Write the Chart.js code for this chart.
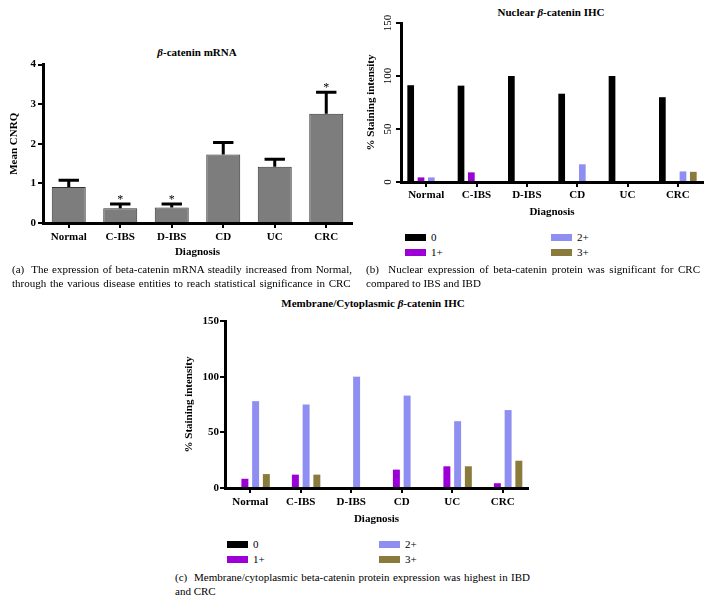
<!DOCTYPE html>
<html>
<head>
<meta charset="utf-8">
<script src="https://cdn.jsdelivr.net/npm/chart.js@4.4.1/dist/chart.umd.min.js"></script>
<style>
  body { margin: 0; width: 708px; height: 612px; background: #fff; position: relative; overflow: hidden;
         font-family: "Liberation Serif", "DejaVu Serif", serif; color: #000; }
  canvas { position: absolute; }
  .title { position: absolute; font-weight: bold; font-size: 11px; white-space: nowrap; transform: translate(-50%, -50%); }
  .cap { position: absolute; font-size: 11px; line-height: 14px; white-space: nowrap; }
  .cap .j { text-align: justify; text-align-last: justify; }
  .leg { position: absolute; font-size: 11px; display: flex; align-items: center; height: 12px; transform: translateY(-50%); }
  .leg .sw { display: inline-block; width: 21px; height: 7px; margin-right: 5px; }
</style>
</head>
<body>

<div class="title" style="left:197px; top:52px;"><i>β</i>-catenin mRNA</div>
<div class="title" style="left:551px; top:12px;">Nuclear <i>β</i>-catenin IHC</div>
<div class="title" style="left:373px; top:303px;">Membrane/Cytoplasmic <i>β</i>-catenin IHC</div>

<canvas id="cA" width="360" height="214" style="left:0px; top:56px;"></canvas>
<canvas id="cB" width="348" height="215" style="left:360px; top:14px;"></canvas>
<canvas id="cC" width="370" height="220" style="left:170px; top:312px;"></canvas>

<div id="legB"></div>
<div id="legC"></div>

<div class="cap" style="left:12px; top:262px; width:340px;">
  <div class="j">(a)&nbsp; The expression of beta-catenin mRNA steadily increased from Normal,</div>
  <div style="word-spacing:1px">through the various disease entities to reach statistical significance in CRC</div>
</div>
<div class="cap" style="left:366px; top:262px; width:334px;">
  <div class="j">(b)&nbsp; Nuclear expression of beta-catenin protein was significant for CRC</div>
  <div>compared to IBS and IBD</div>
</div>
<div class="cap" style="left:175px; top:570px; width:355px;">
  <div class="j">(c)&nbsp; Membrane/cytoplasmic beta-catenin protein expression was highest in IBD</div>
  <div>and CRC</div>
</div>

<script>
// ---------- Data ----------
const categories = ["Normal", "C-IBS", "D-IBS", "CD", "UC", "CRC"];

// (a) beta-catenin mRNA, mean CNRQ with upper SEM
const mrnaMean = [0.91, 0.37, 0.39, 1.73, 1.42, 2.76];
const mrnaSem  = [0.17, 0.11, 0.09, 0.30, 0.19, 0.54];
const mrnaSig  = [false, true, true, false, false, true];

// staining grades
const gradeLabels = ["0", "1+", "2+", "3+"];
const gradeColors = ["#000000", "#9d00d6", "#8f8ff2", "#8a7b3c"];

// (b) nuclear IHC, % per grade
const nuclear0 = [91.3, 90.9, 100, 83.3, 100, 80];
const nuclear1 = [4.35, 9.1, 0, 0, 0, 0];
const nuclear2 = [4.35, 0, 0, 16.7, 0, 10];
const nuclear3 = [0, 0, 0, 0, 0, 9.6];

// (c) membrane/cytoplasmic IHC, % per grade
const membrane0 = [0, 0, 0, 0, 0, 0];
const membrane1 = [8.3, 12, 0, 16.5, 19.5, 4.3];
const membrane2 = [78, 75, 100, 83, 60, 70];
const membrane3 = [12.5, 12, 0, 0, 19.5, 24.5];

const yTicksMrna = { min: 0, max: 4, step: 1 };
const yTicksPct  = { min: 0, max: 150, step: 50 };

// ---------- Helpers ----------
const FONT = "Liberation Serif";
const font = (size, bold) => ({ family: FONT, size: size, weight: bold ? "bold" : "normal" });

function axisX(h, labelPad, titlePadBottom) {
  return {
    offset: true,
    grid: { display: true, offset: false, drawOnChartArea: false, tickLength: 5, color: "#000", lineWidth: 2 },
    border: { display: true, color: "#000", width: 3 },
    ticks: { color: "#000", font: font(11, true), padding: labelPad, maxRotation: 0, autoSkip: false },
    title: { display: true, text: "Diagnosis", color: "#000", font: font(11, true), padding: { top: 0, bottom: titlePadBottom } },
    afterFit: s => { s.height = h; }
  };
}

function axisY(w, range, titleText, titlePadTop, tickOpts) {
  return {
    min: range.min, max: range.max,
    grid: { display: true, drawOnChartArea: false, tickLength: 5, color: "#000", lineWidth: 2 },
    border: { display: true, color: "#000", width: 3 },
    ticks: Object.assign({ stepSize: range.step, color: "#000", font: font(11, true), padding: 2 }, tickOpts || {}),
    title: { display: true, text: titleText, color: "#000", font: font(11, true), padding: { top: titlePadTop, bottom: 0 } },
    afterFit: s => { s.width = w; }
  };
}

function gradeDatasets(series, catPct) {
  return series.map((vals, i) => ({
    label: gradeLabels[i],
    data: vals,
    backgroundColor: gradeColors[i],
    borderWidth: 0,
    barPercentage: 0.65,
    categoryPercentage: catPct
  }));
}

function buildLegend(id, left1, left2, top1, top2) {
  const box = document.getElementById(id);
  const pos = [[left1, top1], [left1, top2], [left2, top1], [left2, top2]];
  gradeLabels.forEach((lab, i) => {
    const d = document.createElement("div");
    d.className = "leg";
    d.style.left = pos[i][0] + "px";
    d.style.top = pos[i][1] + "px";
    d.innerHTML = `<span class="sw" style="background:${gradeColors[i]}"></span><span>${lab}</span>`;
    box.appendChild(d);
  });
}

// ---------- Plugins ----------
const errorBars = {
  id: "errorBars",
  afterDatasetsDraw(chart) {
    const ctx = chart.ctx, y = chart.scales.y, meta = chart.getDatasetMeta(0);
    ctx.save();
    ctx.strokeStyle = "#000";
    ctx.fillStyle = "#000";
    ctx.lineWidth = 3;
    meta.data.forEach((bar, i) => {
      const top = y.getPixelForValue(mrnaMean[i] + mrnaSem[i]);
      const base = y.getPixelForValue(mrnaMean[i]);
      const half = bar.width * 0.3;
      ctx.beginPath();
      ctx.moveTo(bar.x, base);
      ctx.lineTo(bar.x, top);
      ctx.moveTo(bar.x - half, top);
      ctx.lineTo(bar.x + half, top);
      ctx.stroke();
      if (mrnaSig[i]) {
        ctx.font = "12px " + FONT;
        ctx.textAlign = "center";
        ctx.textBaseline = "alphabetic";
        ctx.fillText("*", bar.x, top - 1);
      }
    });
    ctx.restore();
  }
};

// vertical tick labels on the nuclear chart
const rotatedTicks = {
  id: "rotatedTicks",
  afterDraw(chart) {
    const ctx = chart.ctx, y = chart.scales.y;
    ctx.save();
    ctx.font = "11px " + FONT;
    ctx.fillStyle = "#000";
    ctx.textAlign = "center";
    ctx.textBaseline = "middle";
    y.ticks.forEach(t => {
      ctx.save();
      ctx.translate(y.right - 13, y.getPixelForValue(t.value));
      ctx.rotate(-Math.PI / 2);
      ctx.fillText(String(t.value), 0, 0);
      ctx.restore();
    });
    ctx.restore();
  }
};

const base = {
  responsive: false,
  animation: false,
  events: [],
  plugins: { legend: { display: false }, tooltip: { enabled: false } }
};

// ---------- (a) mRNA ----------
new Chart(document.getElementById("cA"), {
  type: "bar",
  data: {
    labels: categories,
    datasets: [{
      data: mrnaMean,
      backgroundColor: "#7d7d7d",
      borderColor: "#333333",
      borderWidth: 1,
      barPercentage: 0.66,
      categoryPercentage: 1
    }]
  },
  options: Object.assign({}, base, {
    layout: { padding: { left: 0, top: 8, right: 8, bottom: 0 } },
    scales: {
      x: axisX(47, 3, 11),
      y: axisY(43, yTicksMrna, "Mean CNRQ", 8)
    }
  }),
  plugins: [errorBars]
});

// ---------- (b) nuclear ----------
new Chart(document.getElementById("cB"), {
  type: "bar",
  data: { labels: categories, datasets: gradeDatasets([nuclear0, nuclear1, nuclear2, nuclear3], 0.82) },
  options: Object.assign({}, base, {
    layout: { padding: { left: 0, top: 9, right: 5, bottom: 0 } },
    scales: {
      x: axisX(47, 2, 10),
      y: axisY(41, yTicksPct, "% Staining intensity", 5, { color: "rgba(0,0,0,0)" })
    }
  }),
  plugins: [rotatedTicks]
});

// ---------- (c) membrane/cytoplasmic ----------
new Chart(document.getElementById("cC"), {
  type: "bar",
  data: { labels: categories, datasets: gradeDatasets([membrane0, membrane1, membrane2, membrane3], 0.85) },
  options: Object.assign({}, base, {
    layout: { padding: { left: 0, top: 9, right: 12, bottom: 0 } },
    scales: {
      x: axisX(44, 3, 6),
      y: axisY(55, yTicksPct, "% Staining intensity", 13, { padding: 1 })
    }
  })
});

buildLegend("legB", 405, 551, 237, 252);
buildLegend("legC", 227, 379, 544, 559);
</script>
</body>
</html>
